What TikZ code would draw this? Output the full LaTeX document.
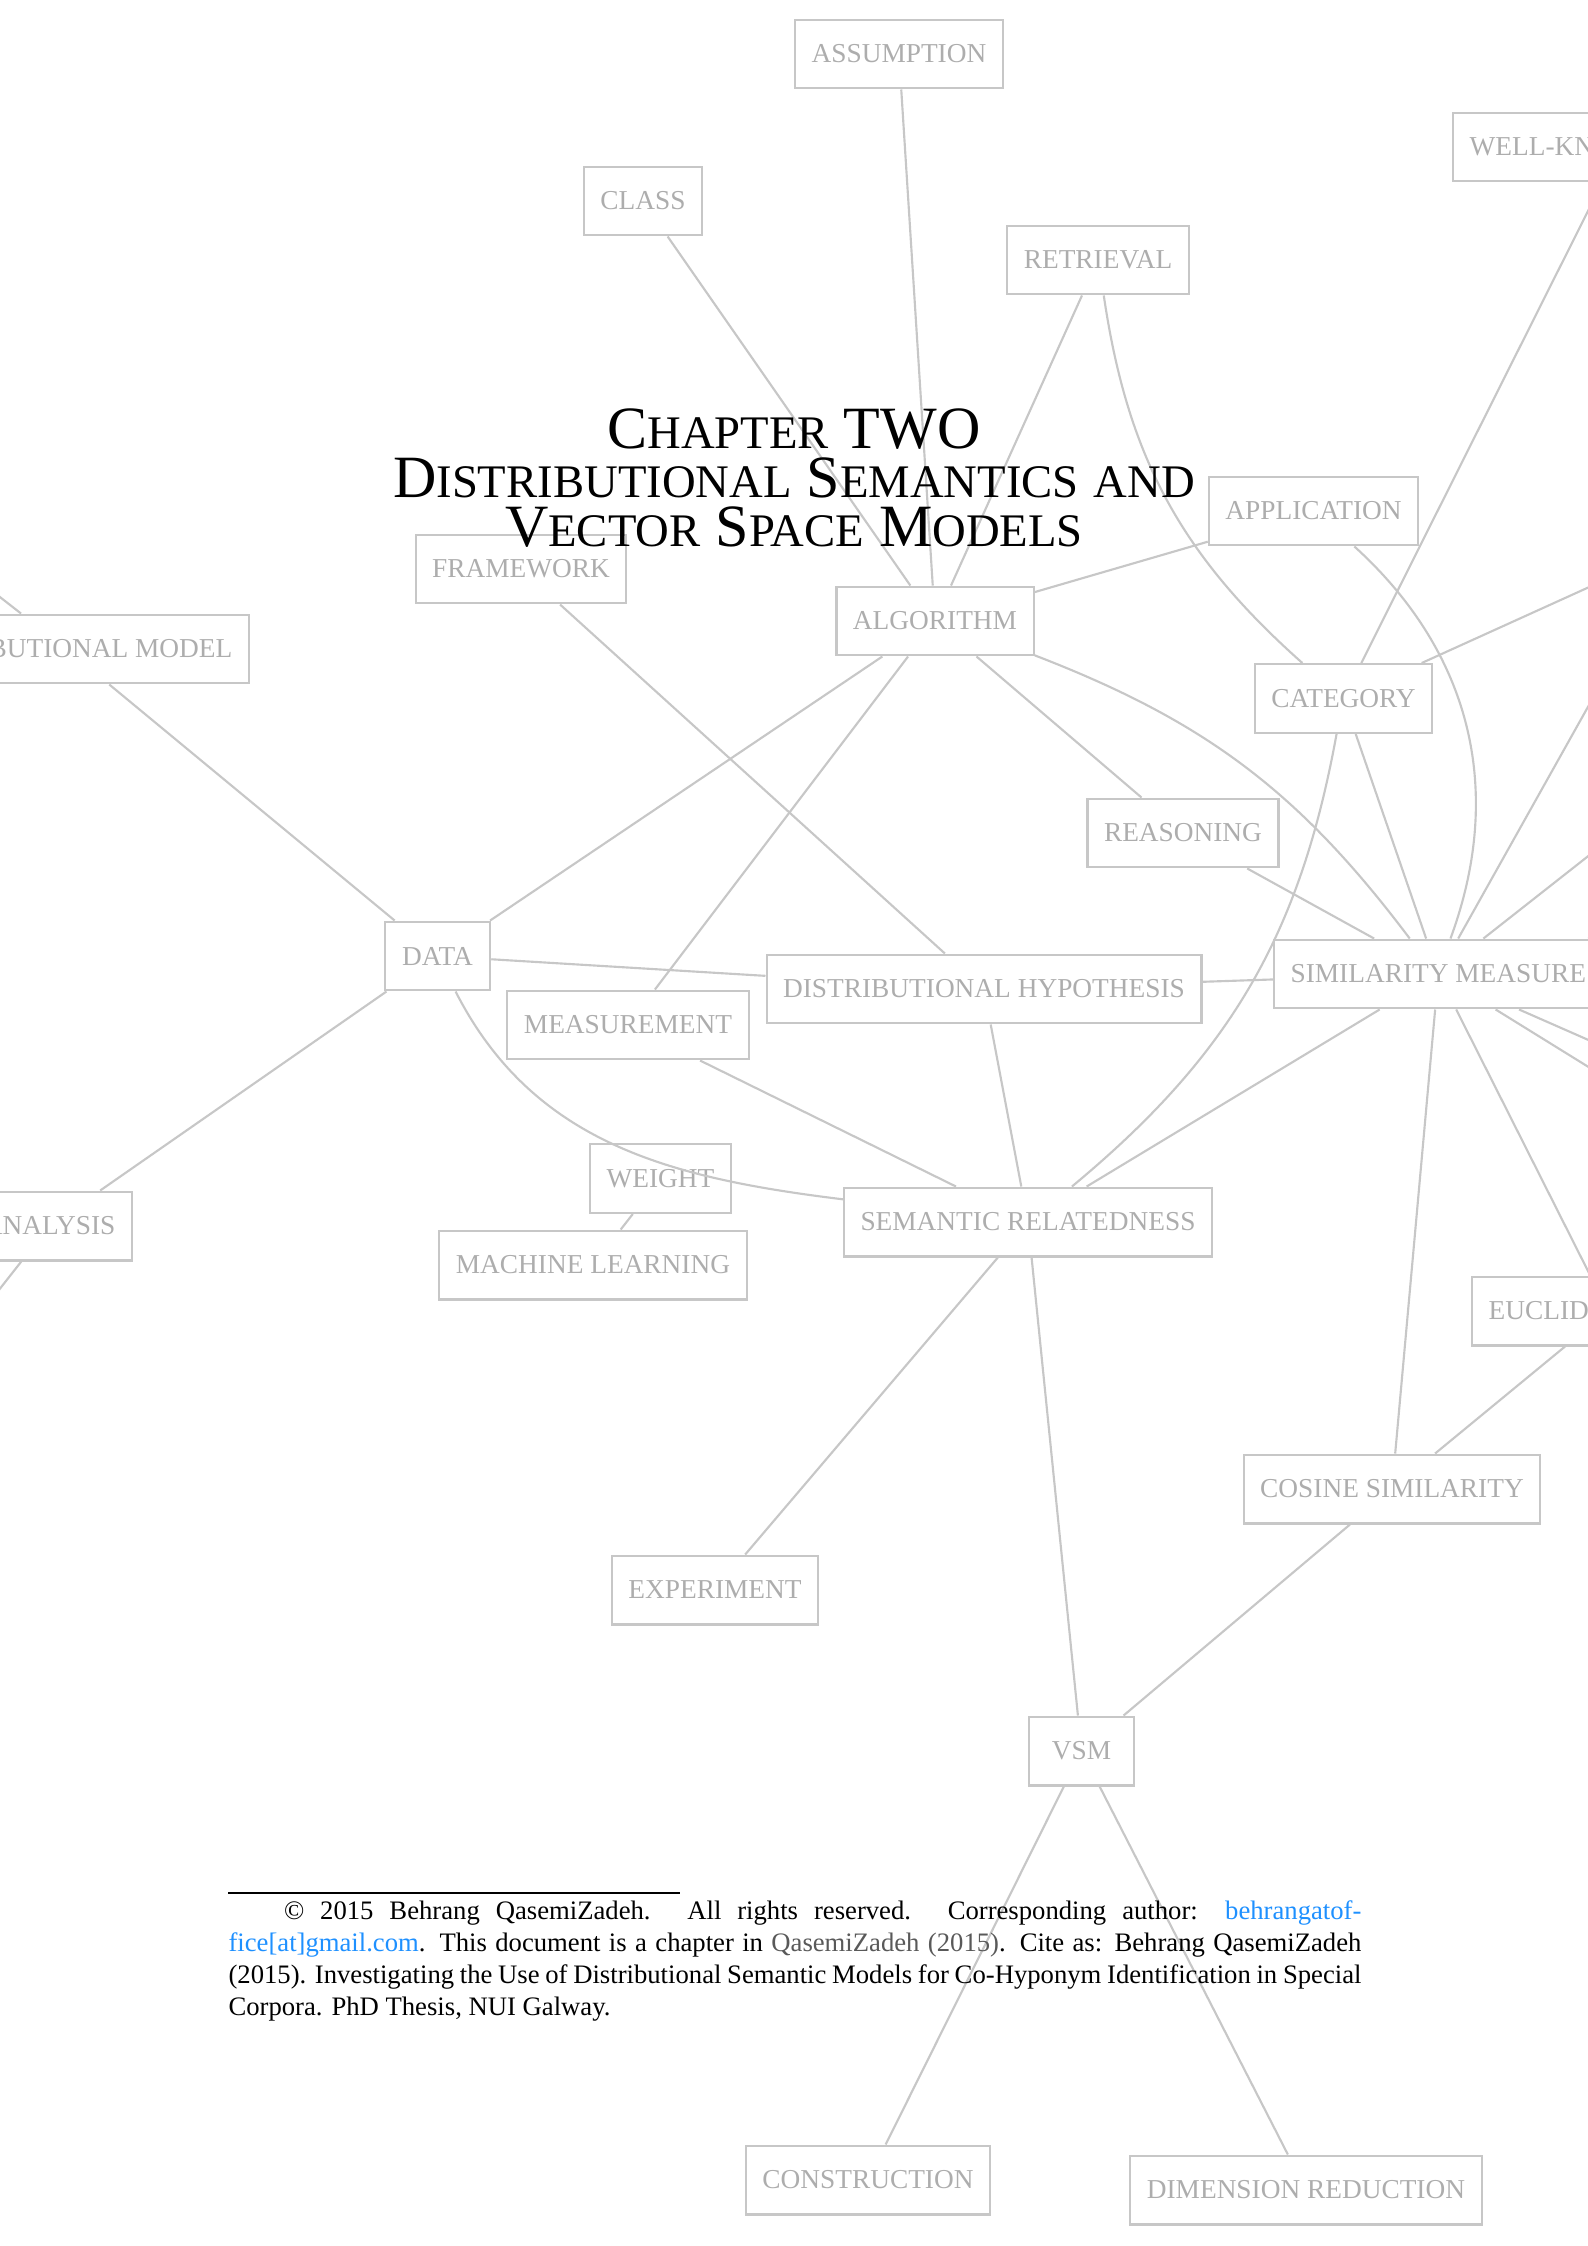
\documentclass[tikz,border=0pt]{standalone}
\usepackage{fontspec}
\setmainfont{Liberation Serif}
\usetikzlibrary{positioning}
\definecolor{linkblue}{RGB}{30,144,255}
\definecolor{citegray}{gray}{0.35}
\newcommand{\smallcapsize}{\fontsize{17.5}{18.4}\selectfont}
\newcommand{\fakesc}[2]{#1{\smallcapsize #2}}

\begin{document}
\begin{tikzpicture}[x=0.37486pt, y=-0.37486pt,
  concept/.style={draw=black!22, line width=0.8pt, text=black!32,
    font=\fontsize{10.25}{12}\selectfont, inner xsep=6.2pt,
    minimum height=25.8pt, minimum width=39.5pt},
  link/.style={draw=black!22, line width=0.8pt},
  titletext/.style={font=\fontsize{22.5}{18.4}\selectfont, inner sep=0pt}]
\useasboundingbox (0,0) rectangle (1588,2246);
\clip (0,0) rectangle (1588,2246);

% concept boxes
\node[concept] (assumption)   at (899,54)      {ASSUMPTION};
\node[concept] (class)        at (643,201)     {CLASS};
\node[concept] (retrieval)    at (1098,260)    {RETRIEVAL};
\node[concept, anchor=west, text width=112.8pt, align=left] (wellknown) at (1452,147) {WELL-KNOWN};
\node[concept] (application)  at (1313.5,511)  {APPLICATION};
\node[concept] (framework)    at (521,569)     {FRAMEWORK};
\node[concept] (algorithm)    at (935,621)     {ALGORITHM};
\node[concept, anchor=east] (distmodel) at (250,649) {DISTRIBUTIONAL MODEL};
\node[concept] (category)     at (1343.5,698.5){CATEGORY};
\node[concept] (reasoning)    at (1183,833)    {REASONING};
\node[concept] (data)         at (437.5,956)   {DATA};
\node[concept] (disthyp)      at (984,989)     {DISTRIBUTIONAL HYPOTHESIS};
\node[concept, anchor=west] (simm) at (1273,974) {SIMILARITY MEASURE};
\node[concept] (measurement)  at (628,1025)    {MEASUREMENT};
\node[concept] (weight)       at (660.5,1178.5){WEIGHT};
\node[concept] (machlearn)    at (593,1265)    {MACHINE LEARNING};
\node[concept] (semrel)       at (1028,1222)   {SEMANTIC RELATEDNESS};
\node[concept, anchor=east] (analysis) at (133,1226) {ANALYSIS};
\node[concept, anchor=west, text width=89.6pt, align=left] (euclid) at (1471,1311) {EUCLIDEAN};
\node[concept] (cosine)       at (1392,1489)   {COSINE SIMILARITY};
\node[concept] (experiment)   at (715,1590)    {EXPERIMENT};
\node[concept] (vsm)          at (1081.5,1751) {VSM};
\node[concept] (construction) at (868,2180)    {CONSTRUCTION};
\node[concept] (dimred)       at (1306,2190)   {DIMENSION REDUCTION};

% links leaving the page
\coordinate (offcat) at (1640,564);
\coordinate (offdm)  at (-100,519);
\coordinate (offan)  at (-60,1365);
\coordinate (offsa)  at (1640,614);
\coordinate (offsb)  at (1690,776);
\coordinate (offsc)  at (1700,912);
\coordinate (offsd)  at (1700,1089);
\coordinate (offse)  at (1700,1136);

\foreach \a/\b in {assumption/algorithm, class/algorithm, retrieval/algorithm,
    application/algorithm, wellknown/category, category/offcat,
    framework/disthyp, distmodel/data, distmodel/offdm,
    algorithm/data, algorithm/measurement, algorithm/reasoning,
    category/simm, reasoning/simm, data/disthyp, data/analysis, analysis/offan,
    disthyp/simm, disthyp/semrel, measurement/semrel, simm/semrel,
    simm/cosine, simm/euclid, simm/offsa, simm/offsb, simm/offsc,
    simm/offsd, simm/offse, euclid/cosine, weight/machlearn,
    semrel/experiment, semrel/vsm, cosine/vsm, vsm/construction, vsm/dimred}
  \draw[link] (\a) -- (\b);

\draw[link] (retrieval) to[bend right=20] (category);
\draw[link] (application) to[bend left=34] (simm);
\draw[link] (algorithm) to[bend left=16] (simm);
\draw[link] (category) to[bend left=20] (semrel);
\draw[link] (data) to[out=-63, in=173] (semrel);

% chapter title
\node[titletext, anchor=base] (title1) at (794,448) {\fakesc{C}{HAPTER} TWO};
\node[titletext, anchor=base] (title2) at (794,497) {\fakesc{D}{ISTRIBUTIONAL} \fakesc{S}{EMANTICS} {\smallcapsize AND}};
\node[titletext, anchor=base] (title3) at (794,546) {\fakesc{V}{ECTOR} \fakesc{S}{PACE} \fakesc{M}{ODELS}};

% footnote
\coordinate (rulestart) at (228,1893);
\coordinate (ruleend) at (680,1893);
\draw[line width=0.4pt] (rulestart) -- (ruleend);
\node[below right=2.85pt and 0pt of rulestart, anchor=north west, inner sep=0pt,
  text width=424.7pt, align=justify, font=\fontsize{10}{12}\selectfont] (fntext)
  {\hspace*{20.8pt}\textcopyright{} 2015 Behrang QasemiZadeh.  All rights reserved.  Corresponding author: \textcolor{linkblue}{behrangatof-}\linebreak
  \textcolor{linkblue}{fice[at]gmail.com}. This document is a chapter in \textcolor{citegray}{QasemiZadeh (2015)}. Cite as: Behrang QasemiZadeh\linebreak
  (2015). Investigating the Use of Distributional Semantic Models for Co-Hyponym Identification in Special\linebreak
  Corpora. PhD Thesis, NUI Galway.};
\end{tikzpicture}
\end{document}
